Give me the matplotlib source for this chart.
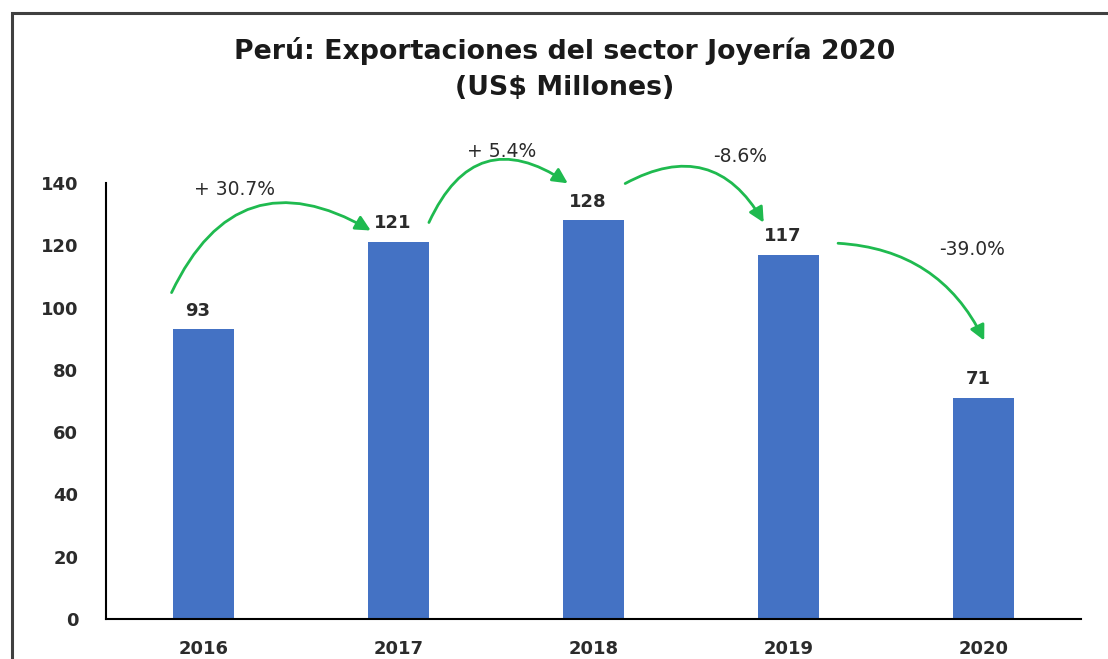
import matplotlib.pyplot as plt
from matplotlib.patches import Rectangle

years = ["2016", "2017", "2018", "2019", "2020"]
exports = [93, 121, 128, 117, 71]
changes = ["+ 30.7%", "+ 5.4%", "-8.6%", "-39.0%"]

# arrow start/end (x, y in data units) and curvature for each year-on-year change
arrow_from = [(-0.17, 104), (1.15, 126.5), (2.15, 139.4), (3.24, 120.7)]
arrow_to = [(0.87, 124.3), (1.88, 139.4), (2.88, 126.5), (4.01, 88.6)]
arrow_rad = [-0.55, -0.6, -0.5, -0.3]
change_pos = [(0.16, 137.8), (1.53, 150.0), (2.75, 148.4), (3.94, 118.5)]

plt.rcParams["font.family"] = ["DejaVu Sans"]
txt = "#2b2b2b"
green = "#1fba4f"

fig = plt.figure(figsize=(11.08, 6.59), dpi=100)
ax = fig.add_axes([0.0957, 0.0607, 0.8799, 0.6616])

x = range(len(years))
ax.bar(x, exports, width=0.31, color="#4472c4")
ax.set_xlim(-0.5, 4.5)
ax.set_ylim(0, 140)
ax.set_yticks(range(0, 141, 20))
ax.set_xticks(list(x))
ax.set_xticklabels(years)

for s in ["top", "right"]:
    ax.spines[s].set_visible(False)
for s in ["left", "bottom"]:
    ax.spines[s].set_color("black")
    ax.spines[s].set_linewidth(1.5)
ax.tick_params(axis="both", length=0, labelsize=13, labelcolor=txt)
ax.tick_params(axis="y", pad=20)
ax.tick_params(axis="x", pad=15)
for lab in ax.get_xticklabels() + ax.get_yticklabels():
    lab.set_fontweight("bold")

for i, v in enumerate(exports):
    ax.annotate(str(v), (i, v), xytext=(-4, 7), textcoords="offset points",
                ha="center", va="bottom", fontsize=13, color=txt,
                fontweight="bold")

for a, b, r, lab, pos in zip(arrow_from, arrow_to, arrow_rad, changes, change_pos):
    ax.annotate("", xy=b, xytext=a, annotation_clip=False,
                arrowprops=dict(arrowstyle="-|>,head_length=0.9,head_width=0.45",
                                color=green, lw=2,
                                connectionstyle=f"arc3,rad={r}"))
    ax.text(pos[0], pos[1], lab, ha="center", va="center", fontsize=13.5,
            color=txt, clip_on=False)

fig.text(0.51, 0.922, "Perú: Exportaciones del sector Joyería 2020",
         ha="center", va="center", fontsize=19.3, fontweight="bold", color="#1a1a1a")
fig.text(0.51, 0.866, "(US$ Millones)", ha="center", va="center",
         fontsize=19.3, fontweight="bold", color="#1a1a1a")

# outer frame around the chart area
fig.patches.append(Rectangle((0.011, -0.1), 1.2, 1.08, transform=fig.transFigure,
                             fill=False, edgecolor="#404040", linewidth=2.2))

fig.savefig("out.png", dpi=100)
